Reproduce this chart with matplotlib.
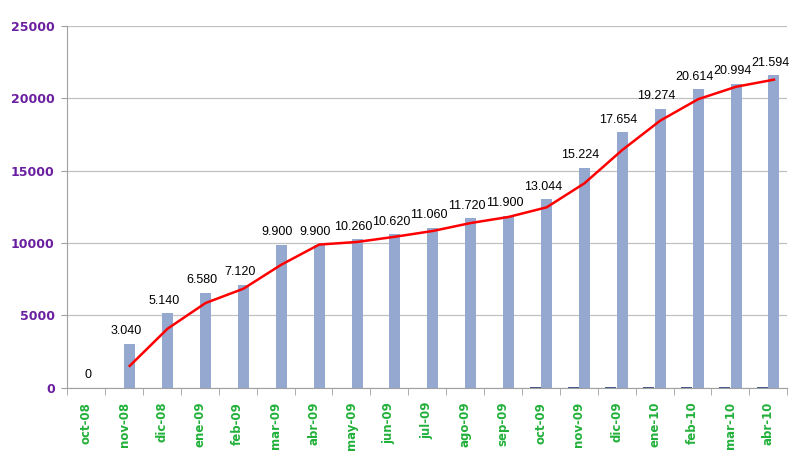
import matplotlib
matplotlib.use("Agg")
import matplotlib.pyplot as plt
import numpy as np

categories = ["oct-08", "nov-08", "dic-08", "ene-09", "feb-09", "mar-09", "abr-09",
              "may-09", "jun-09", "jul-09", "ago-09", "sep-09", "oct-09", "nov-09",
              "dic-09", "ene-10", "feb-10", "mar-10", "abr-10"]
main_values = [0, 3040, 5140, 6580, 7120, 9900, 9900, 10260, 10620, 11060, 11720,
               11900, 13044, 15224, 17654, 19274, 20614, 20994, 21594]
small_values = [0, 0, 0, 0, 0, 0, 0, 0, 0, 0, 0, 0, 60, 60, 60, 60, 60, 60, 60]
trend_values = [None, 1520, 4090, 5860, 6850, 8510, 9900, 10080, 10440, 10840, 11390,
                11810, 12472, 14134, 16439, 18464, 19944, 20804, 21294]
y_ticks = [0, 5000, 10000, 15000, 20000, 25000]

plt.rcParams['font.family'] = ['Liberation Sans', 'DejaVu Sans']

fig = plt.figure(figsize=(8, 4.73), dpi=100)
ax = fig.add_axes([0.084, 0.18, 0.90, 0.765])

x = np.arange(len(categories))
w = 0.29
off = 0.15
ax.bar(x - off, small_values, width=w, color="#4A5A8A", zorder=3)
ax.bar(x + off, main_values, width=w, color="#94A8D0", zorder=3)

tx = [xi + off for xi, v in zip(x, trend_values) if v is not None]
ty = [v for v in trend_values if v is not None]
ax.plot(tx, ty, color="#FF0000", lw=1.8, zorder=4)

def fmt(v):
    return f"{v:,}".replace(",", ".")

for xi, v in zip(x, main_values):
    ax.text(xi + off - 0.1, v + 450, fmt(v), ha="center", va="bottom",
            fontsize=9, color="black", zorder=5)

ax.set_xlim(-0.5, len(categories) - 0.5)
ax.set_ylim(0, 25000)
ax.set_yticks(y_ticks)
ax.set_yticklabels([str(t) for t in y_ticks], color="#6A1FA0", fontweight="bold",
                   fontsize=9, family="DejaVu Sans")
ax.set_xticks(x)
ax.set_xticklabels(categories, rotation=90, color="#22B03A", fontweight="bold",
                   fontsize=8.5, family="DejaVu Sans")
ax.set_xticks(np.arange(len(categories) + 1) - 0.5, minor=True)
ax.tick_params(axis="x", which="major", length=0, pad=10)
ax.tick_params(axis="x", which="minor", length=5, color="#A0A0A0")
ax.tick_params(axis="y", length=4, color="#A0A0A0", pad=5)
ax.grid(axis="y", color="#C0C0C0", lw=0.9, zorder=0)
for s in ["top", "right"]:
    ax.spines[s].set_visible(False)
ax.spines["left"].set_color("#A0A0A0")
ax.spines["bottom"].set_color("#A0A0A0")

fig.savefig("out.png", dpi=100)
